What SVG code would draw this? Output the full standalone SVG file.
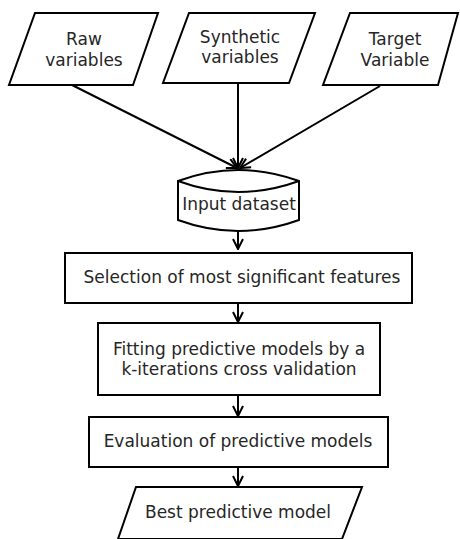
<svg xmlns="http://www.w3.org/2000/svg" width="460" height="539" viewBox="0 0 460 539">
  <style>
    .shape { fill: #ffffff; stroke: #000000; stroke-width: 2; stroke-linejoin: miter; }
    .edge { fill: none; stroke: #000000; stroke-width: 2; }
    .label { font-family: "DejaVu Sans", sans-serif; font-size: 17px; fill: #262626; text-anchor: middle; }
  </style>
  <defs>
    <marker id="arrow" viewBox="0 0 12 12" refX="11" refY="6" markerWidth="12" markerHeight="12" markerUnits="userSpaceOnUse" orient="auto">
      <path d="M1,1 L11,6 L1,11" fill="none" stroke="#000000" stroke-width="2"/>
    </marker>
  </defs>

  <rect width="460" height="539" fill="#ffffff"/>

  <!-- connectors -->
  <g id="connectors">
    <line class="edge" x1="72" y1="85" x2="237" y2="168" marker-end="url(#arrow)"/>
    <line class="edge" x1="238" y1="84" x2="238" y2="168" marker-end="url(#arrow)"/>
    <line class="edge" x1="380" y1="86" x2="240" y2="168" marker-end="url(#arrow)"/>
    <line class="edge" x1="238" y1="231" x2="238" y2="249" marker-end="url(#arrow)"/>
    <line class="edge" x1="238" y1="303" x2="238" y2="322" marker-end="url(#arrow)"/>
    <line class="edge" x1="238" y1="395" x2="238" y2="416" marker-end="url(#arrow)"/>
    <line class="edge" x1="238" y1="467" x2="238" y2="486" marker-end="url(#arrow)"/>
  </g>

  <!-- input nodes -->
  <g id="raw-variables">
    <polygon class="shape" points="35,13 158,13 133,85 9,85"/>
    <text class="label" x="84" y="45">Raw</text>
    <text class="label" x="84" y="66">variables</text>
  </g>
  <g id="synthetic-variables">
    <polygon class="shape" points="189,13 315,13 289,83 163,83"/>
    <text class="label" x="240" y="43">Synthetic</text>
    <text class="label" x="240" y="63">variables</text>
  </g>
  <g id="target-variable">
    <polygon class="shape" points="350,13 458,13 438,85 323,85"/>
    <text class="label" x="395" y="45">Target</text>
    <text class="label" x="395" y="66">Variable</text>
  </g>

  <!-- dataset store -->
  <g id="input-dataset">
    <path class="shape" d="M178,181 Q238,159 299,181 L299,220 Q238,242 178,220 Z"/>
    <path class="edge" d="M178,181 Q238,203 299,181"/>
    <text class="label" x="239" y="210">Input dataset</text>
  </g>

  <!-- processing steps -->
  <g id="feature-selection">
    <rect class="shape" x="65" y="253" width="347" height="50"/>
    <text class="label" x="242" y="283">Selection of most significant features</text>
  </g>
  <g id="model-fitting">
    <rect class="shape" x="98" y="323" width="282" height="72"/>
    <text class="label" x="239" y="355">Fitting predictive models by a</text>
    <text class="label" x="239" y="375">k-iterations cross validation</text>
  </g>
  <g id="model-evaluation">
    <rect class="shape" x="89" y="417" width="299" height="50"/>
    <text class="label" x="238" y="447">Evaluation of predictive models</text>
  </g>

  <!-- output node -->
  <g id="best-model">
    <polygon class="shape" points="136,487 362,487 342,539 118,539"/>
    <text class="label" x="238" y="518">Best predictive model</text>
  </g>
</svg>
